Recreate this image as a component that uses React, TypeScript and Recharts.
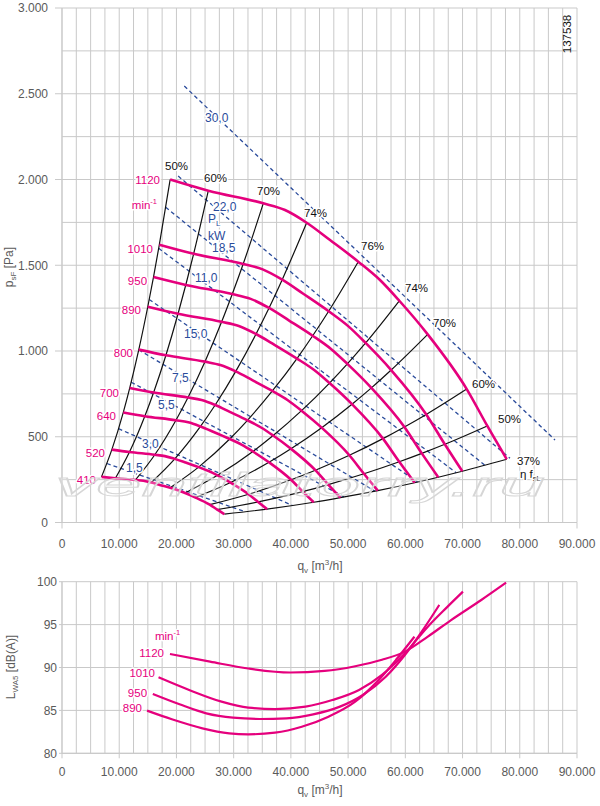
import React from 'react';
import { ComposedChart, Line, Scatter, XAxis, YAxis, CartesianGrid } from 'recharts';

const PINK = '#e5007d';
const BLUE = '#2a4b9b';
const INK = '#111111';
const GRID = '#c9c9c9';
const TXT = '#5a5a5a';
const FONT = '"Liberation Sans", Arial, Helvetica, sans-serif';

// fan curves, [q m³/h, p_sF Pa], one array per speed (min-1)
const SPEEDS = ['1120', '1010', '950', '890', '800', '700', '640', '520', '410'];
const N1120 = [[18900, 2000], [25570, 1935], [35180, 1861], [38970, 1822], [42760, 1748], [46840, 1647], [51780, 1521], [55570, 1414], [58950, 1293], [63910, 1097], [70730, 778], [74330, 563], [77720, 369]];
const N1010 = [[17010, 1620], [23010, 1567], [31660, 1507], [35070, 1476], [38480, 1416], [42160, 1334], [46600, 1232], [50010, 1145], [53060, 1047], [57520, 889], [63660, 630], [66900, 456], [69950, 299]];
const N950 = [[15990, 1431], [21630, 1385], [29760, 1332], [32970, 1304], [36180, 1251], [39630, 1179], [43810, 1089], [47010, 1012], [49870, 925], [54070, 785], [59840, 557], [62880, 403], [65750, 264]];
const N890 = [[14990, 1258], [20280, 1217], [27900, 1170], [30900, 1146], [33910, 1099], [37140, 1036], [41060, 956], [44070, 889], [46750, 813], [50680, 690], [56090, 489], [58940, 354], [61630, 232]];
const N800 = [[13420, 1008], [18160, 975], [24980, 938], [27670, 918], [30360, 881], [33260, 830], [36760, 767], [39460, 713], [41860, 652], [45380, 553], [50220, 392], [52770, 284], [55180, 186]];
const N700 = [[11830, 784], [16010, 758], [22020, 729], [24400, 714], [26770, 685], [29320, 645], [32410, 596], [34790, 554], [36900, 507], [40010, 430], [44280, 305], [46530, 221], [48650, 145]];
const N640 = [[10700, 641], [14470, 620], [19910, 596], [22060, 584], [24200, 560], [26510, 528], [29310, 487], [31450, 453], [33370, 414], [36170, 351], [40030, 249], [42070, 180], [43990, 118]];
const N520 = [[8710, 425], [11790, 411], [16220, 395], [17970, 387], [19710, 371], [21590, 350], [23870, 323], [25620, 300], [27180, 275], [29460, 233], [32610, 165], [34270, 120], [35830, 78]];
const N410 = [[6900, 266], [9330, 258], [12840, 248], [14220, 243], [15610, 233], [17100, 219], [18900, 203], [20280, 188], [21520, 172], [23330, 146], [25820, 104], [27130, 75], [28370, 49]];
const CURVES = [N1120, N1010, N950, N890, N800, N700, N640, N520, N410];

// efficiency lines pass through the same point index of every speed curve
const ETA_TEXT = ['50%', '60%', '70%', '74%', '76%', '74%', '70%', '60%', '50%', '37%'];
const ETA_POINT = [0, 1, 2, 4, 6, 8, 9, 10, 11, 12];

// shaft power P_L [kW], dashed straight lines
const POWER_TEXT = ['30,0', '22,0', '18,5', '15,0', '11,0', '7,5', '5,5', '3,0', '1,5'];
const POWER_FROM = [[21370, 2545], [20300, 2020], [18120, 1838], [16900, 1599], [15240, 1300], [13410, 1007], [12090, 818], [9880, 547], [7840, 344]];
const POWER_TO = [[86160, 481], [78290, 374], [73890, 334], [68900, 290], [62140, 236], [54680, 183], [49310, 149], [40290, 99], [31980, 63]];

// sound power L_WA5 [dB(A)] over q
const SOUND_SPEEDS = ['1120', '1010', '950', '890'];
const S1120 = [[18870, 91.57], [25880, 90.68], [32550, 89.88], [39900, 89.42], [45900, 89.6], [51240, 90.15], [55920, 90.9], [59920, 91.85], [63930, 93.6], [67930, 95.5], [73270, 97.87], [77610, 99.89]];
const S1010 = [[16870, 88.86], [22540, 87.3], [27880, 86.02], [32550, 85.32], [37230, 85.16], [42570, 85.44], [47240, 86.21], [51910, 87.38], [55920, 89.13], [59920, 91.65], [63930, 94.76], [67260, 97.01], [70070, 98.84]];
const S950 = [[15870, 86.91], [20540, 85.71], [25210, 84.66], [29880, 84.15], [34560, 84.0], [39230, 84.08], [43900, 84.54], [48570, 85.44], [52580, 86.8], [56580, 88.93], [59920, 91.46], [63260, 94.57], [65930, 97.29]];
const S890 = [[14860, 84.97], [19200, 83.96], [24540, 82.91], [29220, 82.33], [32550, 82.21], [37230, 82.41], [41900, 83.1], [46570, 84.27], [51240, 86.02], [55250, 88.47], [58590, 91.07], [61590, 93.59]];
const SOUND = [S1120, S1010, S950, S890];

// axes
const X_TICKS = [0, 10000, 20000, 30000, 40000, 50000, 60000, 70000, 80000, 90000];
const P_TICKS = [0, 500, 1000, 1500, 2000, 2500, 3000];
const L_TICKS = [80, 85, 90, 95, 100];
const X_GRID = Array.from({ length: 37 }, (_, i) => i * 2500);
const P_GRID = Array.from({ length: 13 }, (_, i) => i * 250);

// label anchors in chart units
const SPEED_LABEL_AT = [[17130, 1974], [15900, 1571], [14860, 1385], [13810, 1216], [12410, 965], [9960, 732], [9440, 598], [7520, 382], [5940, 225]];
const ETA_LABEL_AT = [[18000, 2055], [24820, 1985], [34080, 1910], [42290, 1782], [52250, 1589], [59940, 1344], [64840, 1140], [71650, 784], [76200, 580], [79520, 335]];
const POWER_LABEL_AT = [[24990, 2335], [26390, 1816], [26210, 1577], [21320, 1076], [23240, 1402], [19220, 819], [16780, 662], [13980, 434], [11190, 294]];
const SOUND_LABEL_AT = [[17830, 91.22], [16250, 88.89], [14860, 86.56], [13980, 84.81]];

const fmt = (v: number) => String(v).replace(/\B(?=(\d{3})+(?!\d))/g, '.');

const pts = (arr: number[][], key = 'p') => arr.map(([q, v]) => ({ q, [key]: v }));

const pinkSeries = CURVES.map((c) => pts(c));
const etaSeries = ETA_POINT.map((i) => CURVES.map((c) => ({ q: c[i][0], p: c[i][1] })).reverse());
const powerSeries = POWER_FROM.map((a, i) => [{ q: a[0], p: a[1] }, { q: POWER_TO[i][0], p: POWER_TO[i][1] }]);
const soundSeries = SOUND.map((c) => pts(c, 'l'));

const speedLabels = [
  ...SPEEDS.map((t, i) => ({ q: SPEED_LABEL_AT[i][0], p: SPEED_LABEL_AT[i][1], text: t })),
  { q: 16600, p: 1828, text: 'min', sup: '-1' },
];
const etaLabels = [
  ...ETA_TEXT.map((t, i) => ({ q: ETA_LABEL_AT[i][0], p: ETA_LABEL_AT[i][1], text: t })),
  { q: 80040, p: 259, text: 'η f', sub: 'sL' },
];
const powerLabels = [
  ...POWER_TEXT.map((t, i) => ({ q: POWER_LABEL_AT[i][0], p: POWER_LABEL_AT[i][1], text: t })),
  { q: 25520, p: 1745, text: 'P', sub: 'L' },
  { q: 25520, p: 1650, text: 'kW' },
];
const soundLabels = [
  ...SOUND_SPEEDS.map((t, i) => ({ q: SOUND_LABEL_AT[i][0], l: SOUND_LABEL_AT[i][1], text: t })),
  { q: 16250, l: 93.2, text: 'min', sup: '-1' },
];

function makeText(color: string, anchor: 'start' | 'end', size = 11.5) {
  return (props: any) => {
    const { cx, cy, payload } = props;
    if (cx == null || cy == null) return null;
    return (
      <text
        x={cx}
        y={cy}
        fill={color}
        fontSize={size}
        fontFamily={FONT}
        textAnchor={anchor}
        stroke="#fff"
        strokeWidth={3}
        strokeLinejoin="round"
        style={{ paintOrder: 'stroke' }}
      >
        {payload.text}
        {payload.sub && <tspan dy={2.5} fontSize={size * 0.65}>{payload.sub}</tspan>}
        {payload.sup && <tspan dy={-5} fontSize={size * 0.65}>{payload.sup}</tspan>}
      </text>
    );
  };
}

const tickStyle = { fill: TXT, fontSize: 12, fontFamily: FONT };

function PressureChart() {
  return (
    <ComposedChart width={600} height={560} margin={{ top: 8, right: 23, bottom: 0, left: 0 }}>
      <CartesianGrid stroke={GRID} verticalValues={X_GRID} horizontalValues={P_GRID} />
      <XAxis
        type="number" dataKey="q" domain={[0, 90000]} ticks={X_TICKS} interval={0}
        tickFormatter={fmt} tick={tickStyle} tickSize={6} tickMargin={11}
        stroke={GRID} height={37.5} allowDataOverflow
      />
      <YAxis
        type="number" dataKey="p" domain={[0, 3000]} ticks={P_TICKS} interval={0}
        tickFormatter={fmt} tick={tickStyle} tickSize={7} tickMargin={7}
        stroke={GRID} width={62} allowDataOverflow
      />
      {powerSeries.map((d, i) => (
        <Line key={'pw' + i} data={d} dataKey="p" type="linear" stroke={BLUE} strokeWidth={1.3}
          strokeDasharray="4 3" dot={false} activeDot={false} isAnimationActive={false} />
      ))}
      {etaSeries.map((d, i) => (
        <Line key={'eta' + i} data={d} dataKey="p" type="monotone" stroke={INK} strokeWidth={1.2}
          dot={false} activeDot={false} isAnimationActive={false} />
      ))}
      {pinkSeries.map((d, i) => (
        <Line key={'n' + i} data={d} dataKey="p" type="monotone" stroke={PINK} strokeWidth={2.6}
          dot={false} activeDot={false} isAnimationActive={false} />
      ))}
      <Scatter data={powerLabels} dataKey="p" shape={makeText(BLUE, 'start', 12)} isAnimationActive={false} />
      <Scatter data={etaLabels} dataKey="p" shape={makeText(INK, 'start')} isAnimationActive={false} />
      <Scatter data={speedLabels} dataKey="p" shape={makeText(PINK, 'end')} isAnimationActive={false} />
    </ComposedChart>
  );
}

function SoundChart() {
  return (
    <ComposedChart width={600} height={246} margin={{ top: 21.7, right: 23, bottom: 0, left: 0 }}>
      <CartesianGrid stroke={GRID} verticalValues={X_GRID} horizontalValues={L_TICKS} />
      <XAxis
        type="number" dataKey="q" domain={[0, 90000]} ticks={X_TICKS} interval={0}
        tickFormatter={fmt} tick={tickStyle} tickSize={5} tickMargin={9}
        stroke={GRID} height={52.7} allowDataOverflow
      />
      <YAxis
        type="number" dataKey="l" domain={[80, 100]} ticks={L_TICKS} interval={0}
        tick={tickStyle} tickSize={3} tickMargin={2}
        stroke={GRID} width={62} allowDataOverflow
      />
      {soundSeries.map((d, i) => (
        <Line key={'s' + i} data={d} dataKey="l" type="monotone" stroke={PINK} strokeWidth={2.2}
          dot={false} activeDot={false} isAnimationActive={false} />
      ))}
      <Scatter data={soundLabels.slice(0, 4)} dataKey="l" shape={makeText(PINK, 'end')} isAnimationActive={false} />
      <Scatter data={soundLabels.slice(4)} dataKey="l" shape={makeText(PINK, 'start')} isAnimationActive={false} />
    </ComposedChart>
  );
}

export default function App() {
  const title = { fill: TXT, fontSize: 12, fontFamily: FONT };
  return (
    <div style={{ position: 'absolute', left: 0, top: 0, width: 600, height: 806, background: '#fff', overflow: 'hidden' }}>
      <div style={{ position: 'absolute', left: 0, top: 0 }}>
        <PressureChart />
      </div>
      <div style={{ position: 'absolute', left: 0, top: 560 }}>
        <SoundChart />
      </div>
      <svg width={600} height={806} style={{ position: 'absolute', left: 0, top: 0, pointerEvents: 'none' }}>
        <text
          x={55} y={496} fontSize={34} fontStyle="italic" fontFamily={FONT}
          textLength={490} lengthAdjust="spacingAndGlyphs"
          fill="rgba(255,255,255,0.25)" stroke="#d6d6d6" strokeWidth={0.9}
        >
          ventilatorry.ru
        </text>
        <text transform="translate(571,34) rotate(-90)" textAnchor="middle" fontSize={11.5} fontFamily={FONT} fill={INK}>
          137538
        </text>
        <text transform="translate(13,267) rotate(-90)" textAnchor="middle" {...title}>
          p<tspan dy={3} fontSize={8}>sF</tspan><tspan dy={-3}> [Pa]</tspan>
        </text>
        <text x={320} y={570} textAnchor="middle" {...title}>
          q<tspan dy={3} fontSize={8}>v</tspan><tspan dy={-3}> [m</tspan><tspan dy={-5} fontSize={8}>3</tspan><tspan dy={5}>/h]</tspan>
        </text>
        <text transform="translate(15,667) rotate(-90)" textAnchor="middle" {...title}>
          L<tspan dy={3} fontSize={8}>WA5</tspan><tspan dy={-3}> [dB(A)]</tspan>
        </text>
        <text x={320} y={794} textAnchor="middle" {...title}>
          q<tspan dy={3} fontSize={8}>v</tspan><tspan dy={-3}> [m</tspan><tspan dy={-5} fontSize={8}>3</tspan><tspan dy={5}>/h]</tspan>
        </text>
      </svg>
    </div>
  );
}
